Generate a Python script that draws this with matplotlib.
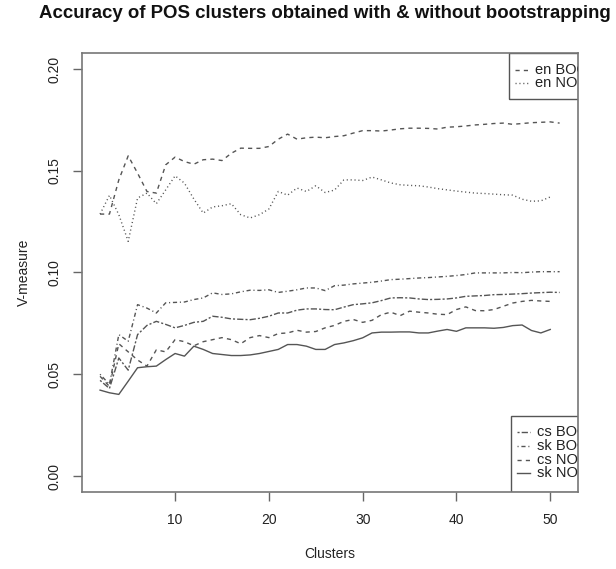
import matplotlib
matplotlib.use("Agg")
import matplotlib.pyplot as plt
from matplotlib.patches import Rectangle
from matplotlib.lines import Line2D

plt.rcParams['font.family'] = ['Liberation Sans', 'DejaVu Sans']

clusters_boot = list(range(2, 52))
clusters_noboot = list(range(2, 51))

en_boot = [0.1287, 0.1287, 0.1455, 0.1573, 0.1488, 0.1398, 0.1390, 0.1529, 0.1567, 0.1545,
           0.1532, 0.1554, 0.1557, 0.1550, 0.1586, 0.1611, 0.1610, 0.1610, 0.1619, 0.1655,
           0.1680, 0.1655, 0.1662, 0.1665, 0.1662, 0.1668, 0.1672, 0.1685, 0.1697, 0.1697,
           0.1695, 0.1700, 0.1706, 0.1709, 0.1709, 0.1708, 0.1705, 0.1714, 0.1716, 0.1720,
           0.1725, 0.1728, 0.1732, 0.1734, 0.1728, 0.1732, 0.1736, 0.1738, 0.1740, 0.1734]
en_noboot = [0.1287, 0.1379, 0.1284, 0.1153, 0.1366, 0.1390, 0.1338, 0.1406, 0.1475, 0.1439,
             0.1361, 0.1292, 0.1322, 0.1328, 0.1338, 0.1284, 0.1268, 0.1284, 0.1312, 0.1398,
             0.1380, 0.1415, 0.1398, 0.1426, 0.1393, 0.1405, 0.1455, 0.1455, 0.1452, 0.1469,
             0.1455, 0.1440, 0.1431, 0.1428, 0.1426, 0.1420, 0.1412, 0.1406, 0.1400, 0.1395,
             0.1390, 0.1388, 0.1385, 0.1382, 0.1380, 0.1360, 0.1350, 0.1352, 0.1371]
sk_boot = [0.0500, 0.0450, 0.0695, 0.0662, 0.0842, 0.0825, 0.0801, 0.0851, 0.0853, 0.0855,
           0.0867, 0.0875, 0.0900, 0.0892, 0.0895, 0.0905, 0.0913, 0.0912, 0.0915, 0.0902,
           0.0908, 0.0915, 0.0924, 0.0924, 0.0911, 0.0935, 0.0938, 0.0944, 0.0948, 0.0952,
           0.0958, 0.0965, 0.0967, 0.0970, 0.0973, 0.0975, 0.0978, 0.0981, 0.0985, 0.0990,
           0.0998, 0.0998, 0.0998, 0.0998, 0.1000, 0.0999, 0.1002, 0.1004, 0.1004, 0.1004]
cs_boot = [0.0470, 0.0430, 0.0580, 0.0520, 0.0695, 0.0740, 0.0760, 0.0745, 0.0728, 0.0740,
           0.0755, 0.0760, 0.0785, 0.0780, 0.0772, 0.0770, 0.0768, 0.0775, 0.0785, 0.0801,
           0.0801, 0.0815, 0.0821, 0.0821, 0.0818, 0.0817, 0.0830, 0.0842, 0.0846, 0.0851,
           0.0862, 0.0875, 0.0876, 0.0875, 0.0870, 0.0867, 0.0868, 0.0870, 0.0875, 0.0883,
           0.0885, 0.0887, 0.0891, 0.0892, 0.0894, 0.0896, 0.0899, 0.0901, 0.0903, 0.0902]
cs_noboot = [0.0490, 0.0440, 0.0650, 0.0610, 0.0570, 0.0540, 0.0620, 0.0610, 0.0670, 0.0660,
             0.0640, 0.0660, 0.0670, 0.0680, 0.0670, 0.0650, 0.0680, 0.0690, 0.0680, 0.0700,
             0.0703, 0.0716, 0.0707, 0.0710, 0.0728, 0.0740, 0.0760, 0.0769, 0.0755, 0.0765,
             0.0793, 0.0805, 0.0788, 0.0810, 0.0805, 0.0801, 0.0795, 0.0793, 0.0818, 0.0831,
             0.0813, 0.0812, 0.0818, 0.0834, 0.0850, 0.0858, 0.0863, 0.0860, 0.0858]
sk_noboot = [0.0422, 0.0409, 0.0401, 0.0466, 0.0532, 0.0537, 0.0540, 0.0572, 0.0602, 0.0589,
             0.0638, 0.0622, 0.0602, 0.0597, 0.0592, 0.0592, 0.0595, 0.0602, 0.0612, 0.0622,
             0.0646, 0.0646, 0.0638, 0.0622, 0.0622, 0.0646, 0.0654, 0.0665, 0.0679, 0.0703,
             0.0707, 0.0707, 0.0708, 0.0708, 0.0703, 0.0703, 0.0712, 0.0720, 0.0711, 0.0728,
             0.0728, 0.0728, 0.0726, 0.0730, 0.0739, 0.0742, 0.0715, 0.0703, 0.0720]

x_ticks = [10, 20, 30, 40, 50]
y_ticks = [0.00, 0.05, 0.10, 0.15, 0.20]
y_ticklabels = ["0.00", "0.05", "0.10", "0.15", "0.20"]

title = "Accuracy of POS clusters obtained with & without bootstrapping"
legend_top = ["en BOOT", "en NOBOOT"]
legend_bottom = ["cs BOOT", "sk BOOT", "cs NOBOOT", "sk NOBOOT"]

LC = '#555555'
dashed = (0, (3, 3))
dotted = (0, (0.8, 2.0))
dotdash = (0, (0.8, 2.0, 3, 2.0))
twodash = (0, (1.5, 1.5, 4.5, 1.5))

fig = plt.figure(figsize=(6.16, 5.69), dpi=100)
ax = fig.add_axes([0.1326, 0.1348, 0.8057, 0.7726])

series = [
    (clusters_boot, en_boot, dashed),
    (clusters_noboot, en_noboot, dotted),
    (clusters_boot, cs_boot, twodash),
    (clusters_boot, sk_boot, dotdash),
    (clusters_noboot, cs_noboot, dashed),
    (clusters_noboot, sk_noboot, '-'),
]
for xs, ys, ls in series:
    ax.plot(xs, ys, color=LC, lw=1.0, linestyle=ls)

ax.set_xlim(0.04, 52.96)
ax.set_ylim(-0.008, 0.208)
ax.set_xticks(x_ticks)
ax.set_yticks(y_ticks)
ax.set_yticklabels(y_ticklabels, rotation=90, va='center')
ax.tick_params(axis='both', length=6.7, width=1.0, color='#666666', labelsize=10,
               labelcolor='#222222')
ax.tick_params(axis='x', pad=8.5)
ax.tick_params(axis='y', pad=7.5)
for s in ax.spines.values():
    s.set_color('#777777')
    s.set_linewidth(1.2)

fig.text(0.528, 0.9754, title, ha='center', va='center', fontsize=13.4,
         fontweight='bold', color='#111111')
ax.set_xlabel("Clusters", fontsize=10, color='#222222', labelpad=14)
ax.set_ylabel("V-measure", fontsize=10, color='#222222', labelpad=12)

# legends (clipped at the plot region, as in the original)
def draw_legend(x0, y0, y1, labels, styles, rows):
    rect = Rectangle((x0, y0), 0.3, y1 - y0, transform=ax.transAxes, fill=False,
                     edgecolor='#555555', lw=1.0, clip_on=True)
    ax.add_patch(rect)
    for lab, ls, ry in zip(labels, styles, rows):
        ln = Line2D([x0 + 0.012, x0 + 0.038], [ry, ry], transform=ax.transAxes,
                    color=LC, lw=1.0, linestyle=ls)
        ax.add_line(ln)
        ax.text(x0 + 0.052, ry, lab, transform=ax.transAxes, fontsize=10.5,
                va='center', ha='left', color='#222222', clip_on=True)

draw_legend(0.8616, 0.894, 1.0, legend_top, [dashed, dotted], [0.9607, 0.9304])
draw_legend(0.8644, 0.0, 0.1743, legend_bottom, [twodash, dotdash, dashed, '-'],
            [0.1379, 0.1053, 0.0742, 0.0439])

fig.savefig("out.png", dpi=100)
